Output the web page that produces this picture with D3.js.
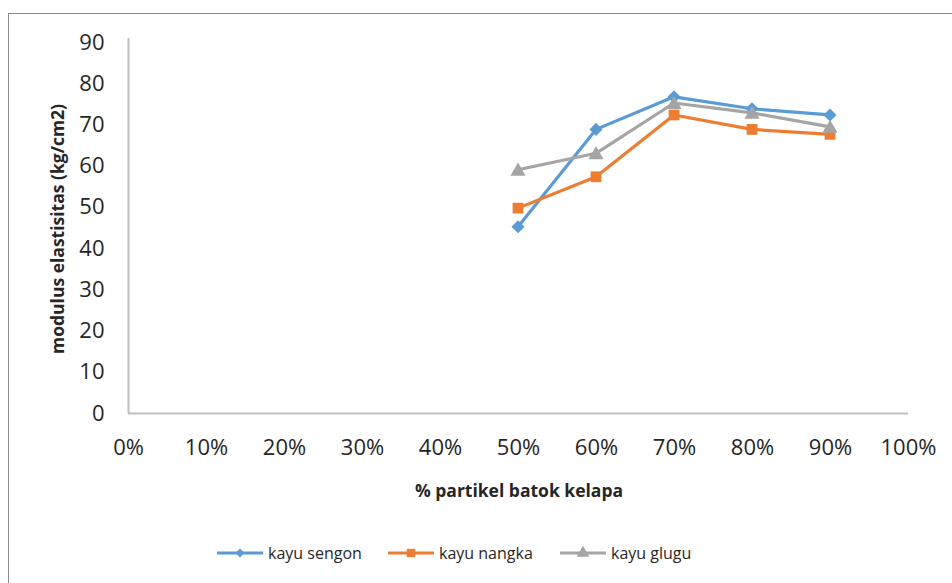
<!DOCTYPE html>
<html>
<head>
<meta charset="utf-8">
<script src="https://cdn.jsdelivr.net/npm/d3@7"></script>
<style>
  html, body { margin: 0; padding: 0; background: #fff; }
  svg { display: block; }
  text { font-family: "Open Sans", "Liberation Sans", sans-serif; fill: #262626; }
</style>
</head>
<body>
<svg id="chart" width="952" height="583"></svg>
<script>
// Particle share (x) and modulus of elasticity per wood type (y)
const xValues = [0.5, 0.6, 0.7, 0.8, 0.9];
const kayuSengon = [45.2, 68.8, 76.7, 73.8, 72.3];
const kayuNangka = [49.7, 57.3, 72.3, 68.8, 67.6];
const kayuGlugu  = [59.0, 63.0, 75.2, 72.8, 69.4];
const seriesNames = ["kayu sengon", "kayu nangka", "kayu glugu"];
const xTicks = [0, 0.1, 0.2, 0.3, 0.4, 0.5, 0.6, 0.7, 0.8, 0.9, 1.0];
const yTicks = [0, 10, 20, 30, 40, 50, 60, 70, 80, 90];

const colors = ["#5b9bd5", "#ed7d31", "#a5a5a5"];
// diamond is a square turned 45 degrees
const shapes = [d3.symbolSquare, d3.symbolSquare, d3.symbolTriangle];
const rotations = [45, 0, 0];
const symSizes = [85, 115, 100];
const legendSizes = [40, 70, 70];

const svg = d3.select("#chart");

// outer chart frame (top and left edges visible)
svg.append("rect")
  .attr("x", 8.5).attr("y", 13.5)
  .attr("width", 960).attr("height", 600)
  .attr("fill", "none").attr("stroke", "#8c8c8c").attr("stroke-width", 1);

const plot = { left: 128, right: 908, top: 42, bottom: 413 };

const x = d3.scaleLinear().domain([0, 1]).range([plot.left, plot.right]);
const y = d3.scaleLinear().domain([0, 90]).range([plot.bottom, plot.top]);

// axes
const xAxis = d3.axisBottom(x).tickValues(xTicks).tickFormat(d3.format(".0%")).tickSize(0).tickPadding(26);
const yAxis = d3.axisLeft(y).tickValues(yTicks).tickSize(0).tickPadding(24);

const gx = svg.append("g").attr("transform", `translate(0,${plot.bottom + 0.5})`).call(xAxis);
const gy = svg.append("g").attr("transform", `translate(${plot.left + 0.5},0)`).call(yAxis);

[gx, gy].forEach(g => {
  g.select(".domain").attr("stroke", "#bfbfbf").attr("stroke-width", 2);
  g.selectAll("text").style("font-size", "22px").attr("fill", "#262626")
    .style("font-family", "'Open Sans', sans-serif");
});
gy.select(".domain").attr("d", `M0,${plot.top - 4}V${plot.bottom}`);
gx.select(".domain").attr("d", `M${plot.left},0H${plot.right}`);

// axis titles
svg.append("text")
  .attr("x", 519).attr("y", 497)
  .attr("text-anchor", "middle")
  .style("font-size", "17.5px").style("font-weight", "bold")
  .text("% partikel batok kelapa");

svg.append("text")
  .attr("transform", "translate(64,229) rotate(-90)")
  .attr("text-anchor", "middle")
  .style("font-size", "17.5px").style("font-weight", "bold")
  .text("modulus elastisitas (kg/cm2)");

// series
const allSeries = [kayuSengon, kayuNangka, kayuGlugu];
const line = d3.line().x((d, i) => x(xValues[i])).y(d => y(d));

allSeries.forEach((vals, s) => {
  const g = svg.append("g");
  g.append("path")
    .attr("d", line(vals))
    .attr("fill", "none")
    .attr("stroke", colors[s])
    .attr("stroke-width", 3.2)
    .attr("stroke-linejoin", "round");
  g.selectAll("path.marker")
    .data(vals)
    .join("path")
    .attr("class", "marker")
    .attr("transform", (d, i) =>
      `translate(${x(xValues[i])},${y(d) + (s === 2 ? 1.5 : 0)}) rotate(${rotations[s]})`)
    .attr("d", d3.symbol().type(shapes[s]).size(symSizes[s]))
    .attr("fill", colors[s]);
});

// legend
const legendItems = [
  { x: 217, name: seriesNames[0] },
  { x: 388, name: seriesNames[1] },
  { x: 560, name: seriesNames[2] }
];
const ly = 553;
legendItems.forEach((it, s) => {
  const g = svg.append("g");
  g.append("line")
    .attr("x1", it.x).attr("x2", it.x + 46)
    .attr("y1", ly).attr("y2", ly)
    .attr("stroke", colors[s]).attr("stroke-width", 3.2);
  g.append("path")
    .attr("transform", `translate(${it.x + 23},${ly}) rotate(${rotations[s]})`)
    .attr("d", d3.symbol().type(shapes[s]).size(legendSizes[s]))
    .attr("fill", colors[s]);
  g.append("text")
    .attr("x", it.x + 51).attr("y", ly + 6)
    .style("font-size", "16px")
    .text(it.name);
});
</script>
</body>
</html>
